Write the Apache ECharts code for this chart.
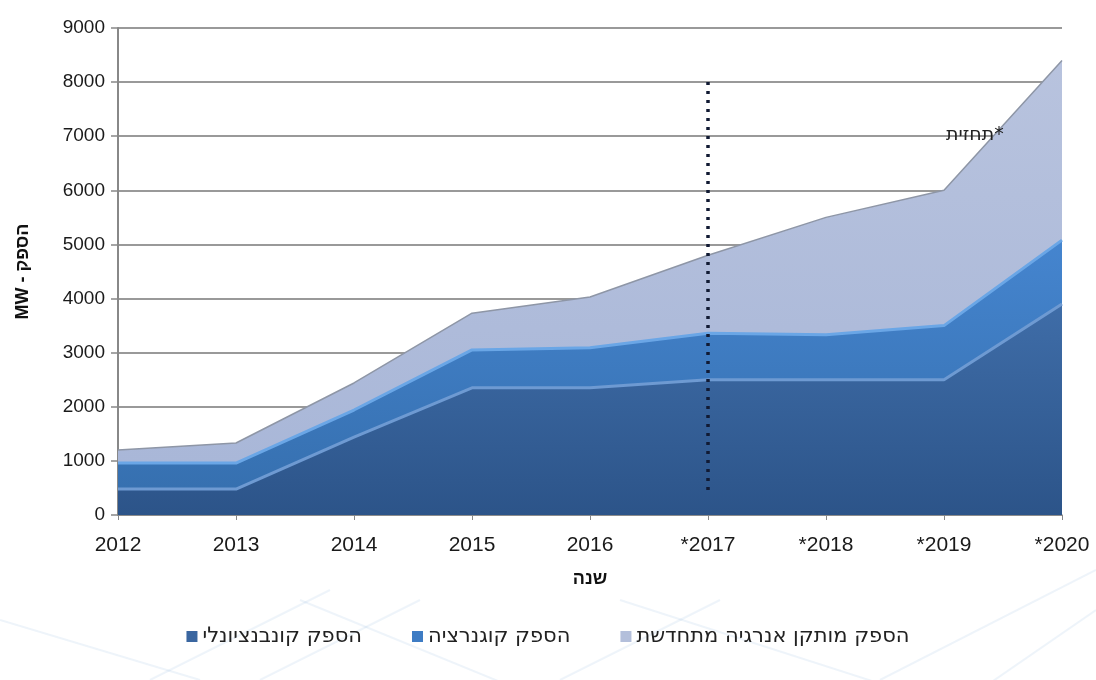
<!DOCTYPE html>
<html>
<head>
<meta charset="utf-8">
<script src="https://cdn.jsdelivr.net/npm/echarts@6/dist/echarts.min.js"></script>
<style>
  html, body { margin: 0; padding: 0; background: #fff; }
  #chart { width: 1096px; height: 680px; }
</style>
</head>
<body>
<div id="chart"></div>
<script>
// שנים (ציר X)
const years = ["2012", "2013", "2014", "2015", "2016", "*2017", "*2018", "*2019", "*2020"];
// ערכים לכל סדרה (MW), נאספים במצבור
const conventional = [480, 480, 1440, 2350, 2350, 2500, 2500, 2500, 3900];
const cogeneration = [480, 480, 500, 700, 740, 860, 830, 1000, 1180];
const renewable = [240, 370, 500, 680, 940, 1440, 2170, 2500, 3320];
const seriesNames = ["הספק קונבנציונלי", "הספק קוגנרציה", "הספק מותקן אנרגיה מתחדשת"];
const yTicks = [0, 9000, 1000]; // min, max, interval
const forecastLine = ["*2017", 8000, 350]; // קו תחזית: קטגוריה, מעלה, מטה

const chart = echarts.init(document.getElementById("chart"));

function grad(top, bottom) {
  return new echarts.graphic.LinearGradient(0, 0, 0, 1, [
    { offset: 0, color: top },
    { offset: 1, color: bottom },
  ]);
}

// קווים דקורטיביים ברקע (חלק תחתון)
const deco = [];
[[150, 680, 330, 590], [260, 680, 420, 600], [560, 680, 720, 600], [620, 600, 900, 690],
 [880, 680, 1096, 570], [980, 690, 1096, 610], [0, 620, 200, 680], [300, 600, 520, 690]].forEach(function (p) {
  deco.push({
    type: "line", silent: true, z: -10,
    shape: { x1: p[0], y1: p[1], x2: p[2], y2: p[3] },
    style: { stroke: "rgba(150,185,225,0.16)", lineWidth: 2 },
  });
});

chart.setOption({
  backgroundColor: "#fff",
  textStyle: { fontFamily: "Liberation Sans, Arial, sans-serif" },
  grid: { left: 118, right: 34, top: 28, bottom: 165 },
  legend: {
    data: seriesNames,
    bottom: 28,
    left: "center",
    itemWidth: 11,
    itemHeight: 11,
    itemGap: 50,
    icon: "rect",
    selectedMode: false,
    textStyle: { fontSize: 21, color: "#222", fontFamily: "DejaVu Sans, Arial, sans-serif" },
  },
  xAxis: {
    type: "category",
    data: years,
    boundaryGap: false,
    name: "שנה",
    nameLocation: "middle",
    nameGap: 55,
    nameTextStyle: { fontSize: 18, fontWeight: "bold", color: "#111" },
    axisLine: { lineStyle: { color: "#888", width: 1.5 } },
    axisTick: { show: true, length: 5, lineStyle: { color: "#888" } },
    axisLabel: { fontSize: 21, color: "#1a1a1a", margin: 20 },
  },
  yAxis: {
    type: "value",
    min: yTicks[0],
    max: yTicks[1],
    interval: yTicks[2],
    name: "MW - הספק",
    nameLocation: "middle",
    nameGap: 86,
    nameRotate: 90,
    nameTextStyle: { fontSize: 18, fontWeight: "bold", color: "#111" },
    axisLine: { show: true, lineStyle: { color: "#888", width: 2 } },
    axisTick: { show: true, length: 7, lineStyle: { color: "#888", width: 1.5 } },
    axisLabel: { fontSize: 19, color: "#1a1a1a", margin: 13, formatter: function (v) { return String(v); } },
    splitLine: { lineStyle: { color: "#999", width: 2 } },
  },
  series: [
    {
      name: seriesNames[0],
      type: "line",
      stack: "total",
      data: conventional,
      symbol: "none",
      itemStyle: { color: "#3a66a0" },
      lineStyle: { color: "#6e9ad2", width: 3 },
      areaStyle: { color: grad("#3f6da8", "#2c5489"), opacity: 1 },
      z: 3,
    },
    {
      name: seriesNames[1],
      type: "line",
      stack: "total",
      data: cogeneration,
      symbol: "none",
      itemStyle: { color: "#3e7cc4" },
      lineStyle: { color: "#6aa6e6", width: 3 },
      areaStyle: { color: grad("#4585cf", "#3670b0"), opacity: 1 },
      z: 2,
    },
    {
      name: seriesNames[2],
      type: "line",
      stack: "total",
      data: renewable,
      symbol: "none",
      itemStyle: { color: "#b3bfdb" },
      lineStyle: { color: "#8e96a6", width: 1.5 },
      areaStyle: { color: grad("#b8c3de", "#a9b7d8"), opacity: 1 },
      z: 1,
      markLine: {
        silent: true,
        symbol: "none",
        label: { show: false },
        lineStyle: { color: "#111a33", type: [3, 6], width: 3.5 },
        data: [[
          { coord: [forecastLine[0], forecastLine[1]] },
          { coord: [forecastLine[0], forecastLine[2]] },
        ]],
        z: 10,
      },
    },
  ],
  graphic: deco.concat([
    {
      type: "text",
      left: 946,
      top: 126,
      z: 20,
      style: { text: "תחזית*", fontSize: 19, fill: "#222", fontFamily: "DejaVu Sans, Arial, sans-serif" },
    },
  ]),
});
</script>
</body>
</html>
